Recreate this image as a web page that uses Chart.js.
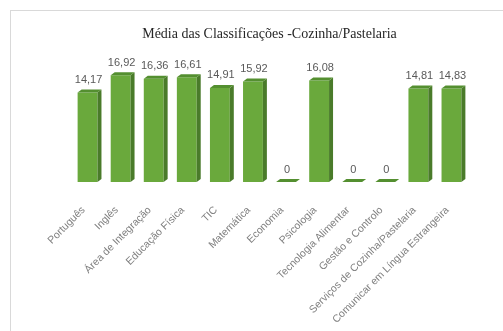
<!DOCTYPE html>
<html>
<head>
<meta charset="utf-8">
<script src="https://cdn.jsdelivr.net/npm/chart.js@4/dist/chart.umd.min.js"></script>
<style>
    html, body { margin: 0; padding: 0; background: #fff; overflow: hidden; }
    #frame {
        position: absolute; left: 10px; top: 10px;
        width: 520px; height: 330px;
        border: 1px solid #d9d9d9; box-sizing: border-box;
    }
    #wrap { position: absolute; left: 0; top: 0; width: 503px; height: 331px; }
</style>
</head>
<body>
<div id="frame"></div>
<div id="wrap"><canvas id="c"></canvas></div>
<script>
    // disciplinas e médias
    const disciplinas = [
        "Português", "Inglês", "Área de Integração", "Educação Física", "TIC",
        "Matemática", "Economia", "Psicologia", "Tecnologia Alimentar",
        "Gestão e Controlo", "Serviços de Cozinha/Pastelaria",
        "Comunicar em Língua Estrangeira",
    ];
    const medias = [14.17, 16.92, 16.36, 16.61, 14.91, 15.92, 0, 16.08, 0, 0, 14.81, 14.83];

    const FRONT = "#6aa93c";
    const SIDE = "#4a7b2a";
    const TOP = "#548f30";
    const DX = 4, DY = 3; // profundidade do efeito 3D

    // desenha faces laterais/topo e etiquetas de valor
    const bars3d = {
        id: "bars3d",
        afterDatasetsDraw(chart) {
            const ctx = chart.ctx;
            const meta = chart.getDatasetMeta(0);
            ctx.save();
            meta.data.forEach((bar, i) => {
                const { x, y, base, width } = bar.getProps(["x", "y", "base", "width"], true);
                const l = x - width / 2, r = x + width / 2;
                // lado
                ctx.fillStyle = SIDE;
                ctx.beginPath();
                ctx.moveTo(r, y);
                ctx.lineTo(r + DX, y - DY);
                ctx.lineTo(r + DX, base - DY);
                ctx.lineTo(r, base);
                ctx.closePath();
                ctx.fill();
                // topo
                ctx.fillStyle = TOP;
                ctx.beginPath();
                ctx.moveTo(l, y);
                ctx.lineTo(l + DX, y - DY);
                ctx.lineTo(r + DX, y - DY);
                ctx.lineTo(r, y);
                ctx.closePath();
                ctx.fill();

                // valor
                ctx.fillStyle = "#595959";
                ctx.font = '11px "Liberation Sans", Arial, sans-serif';
                ctx.textAlign = "center";
                ctx.textBaseline = "bottom";
                const txt = medias[i] === 0 ? "0" : medias[i].toFixed(2).replace(".", ",");
                ctx.fillText(txt, x + 1, y - DY - 4);
            });
            ctx.restore();
        },
    };

    new Chart(document.getElementById("c"), {
        type: "bar",
        data: {
            labels: disciplinas,
            datasets: [{
                data: medias,
                backgroundColor: FRONT,
                borderWidth: 0,
                barPercentage: 0.6,
                categoryPercentage: 1,
            }],
        },
        options: {
            responsive: true,
            maintainAspectRatio: false,
            animation: false,
            layout: { padding: { left: 71, right: 35, top: 0, bottom: 0 } },
            plugins: {
                legend: { display: false },
                tooltip: { enabled: false },
                title: {
                    display: true,
                    text: "Média das Classificações -Cozinha/Pastelaria",
                    color: "#262626",
                    font: { family: '"Liberation Serif", "Times New Roman", serif', size: 14, weight: "normal", lineHeight: 1.2 },
                    padding: { top: 26, bottom: 13 },
                },
            },
            scales: {
                x: {
                    grid: { display: false },
                    border: { display: false },
                    ticks: {
                        maxRotation: 45,
                        minRotation: 45,
                        autoSkip: false,
                        padding: 14,
                        labelOffset: -4,
                        color: "#808080",
                        font: { family: '"Liberation Sans", Arial, sans-serif', size: 10.5 },
                    },
                    afterFit: (scale) => { scale.height = 149; },
                },
                y: {
                    display: false,
                    min: 0,
                    max: 20,
                },
            },
        },
        plugins: [bars3d],
    });
</script>
</body>
</html>
